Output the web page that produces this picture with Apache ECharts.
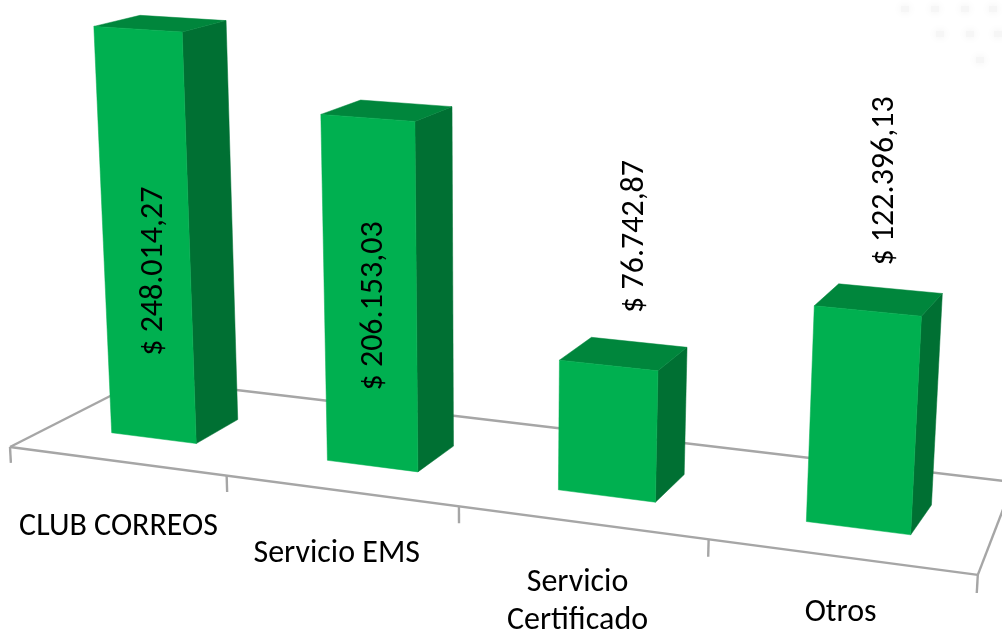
<!DOCTYPE html>
<html>
<head>
<meta charset="utf-8">
<style>html,body{margin:0;padding:0;background:#fff}#c{width:1002px;height:635px}</style>
<script src="https://cdn.jsdelivr.net/npm/echarts@6/dist/echarts.min.js"></script>
</head>
<body>
<div id="c"></div>
<script>
// ---- data ----
var categories = ['CLUB CORREOS', 'Servicio EMS', 'Servicio\nCertificado', 'Otros'];
var values = [248014.27, 206153.03, 76742.87, 122396.13];
var valueLabels = ['$ 248.014,27', '$ 206.153,03', '$ 76.742,87', '$ 122.396,13'];

// ---- layout (text offsets from the projected anchor, px) ----
var valueLabelOffsets = [[16, 242], [6, 188], [27, -129], [18, -130]];
var categoryLabelOffsets = [[2, 66], [-4, 63], [-4, 79], [0, 56]];
var smudges = [[905, 9], [935, 9], [965, 9], [993, 9], [940, 34], [970, 34], [998, 34], [980, 60]];
var FONT = 'Carlito, Calibri, Lato, sans-serif';
var FONT_SIZE = 32;

// ---- 3D camera: homogeneous projection of (X category units, Y 100k$, Z depth) ----
function project(X, Y, Z) {
  var w = 1 - 0.0337 * X - 0.01847 * Y + 0.0704 * Z;
  return [
    (209 * X + 10 - 9.07 * Y + 105.6 * Z) / w,
    (12.6 * X + 447 - 167.6 * Y - 21.9 * Z) / w
  ];
}
var BAR_HALF = 0.2, BAR_SHIFT = -0.015, Z_FRONT = 0.42, Z_BACK = 0.89, Z_FLOOR = 1.4;

// hidden grid: 100 px per category, 1 px per $1000, so axis pixels convert to model units
var GRID = { left: 0, top: 0, width: 400, height: 300 };
function toModel(api, cat, val) {
  var p = api.coord([cat, val]);
  return { X: (p[0] - GRID.left) / 100, Y: (GRID.top + GRID.height - p[1]) / 100 };
}

function poly(points, fill) {
  return { type: 'polygon', shape: { points: points }, style: { fill: fill, stroke: fill, lineWidth: 0.5 } };
}
function line(a, b) {
  return { type: 'line', shape: { x1: a[0], y1: a[1], x2: b[0], y2: b[1] },
           style: { stroke: '#a6a6a6', lineWidth: 2.4, fill: null } };
}
function text(str, x, y, rot) {
  return { type: 'text', x: x, y: y, rotation: rot || 0,
           style: { text: str, fill: '#000', fontFamily: FONT, fontSize: FONT_SIZE,
                    align: 'center', verticalAlign: 'middle', lineHeight: 38 } };
}

function renderFloor(params, api) {
  var n = categories.length;
  var a = project(0, 0, 0), b = project(n, 0, 0), c = project(n - 0.07, 0, Z_FLOOR), d = project(0, 0, Z_FLOOR);
  var kids = [
    { type: 'polygon', shape: { points: [a, b, c, d] }, style: { fill: '#fff' } },
    line(a, b), line(b, c), line(c, d), line(d, a)
  ];
  for (var i = 0; i <= n; i++) {
    kids.push(line(project(i, 0, 0), project(i, -0.1, 0)));
  }
  return { type: 'group', children: kids };
}

function renderBar(params, api) {
  var i = api.value(0), v = api.value(1);
  var m = toModel(api, i, v);
  var xl = m.X + BAR_SHIFT - BAR_HALF, xr = m.X + BAR_SHIFT + BAR_HALF, Y = m.Y;
  var fbl = project(xl, 0, Z_FRONT), fbr = project(xr, 0, Z_FRONT),
      ftl = project(xl, Y, Z_FRONT), ftr = project(xr, Y, Z_FRONT),
      bbr = project(xr, 0, Z_BACK), btr = project(xr, Y, Z_BACK), btl = project(xl, Y, Z_BACK);
  var top = project(m.X + BAR_SHIFT, Y, Z_FRONT);
  var base = project(m.X, 0, 0);
  var vo = valueLabelOffsets[i], co = categoryLabelOffsets[i];
  return { type: 'group', children: [
    poly([fbr, ftr, btr, bbr], '#007033'),
    poly([ftl, btl, btr, ftr], '#00863c'),
    poly([fbl, fbr, ftr, ftl], '#00b050'),
    text(valueLabels[i], top[0] + vo[0], top[1] + vo[1], Math.PI / 2),
    text(categories[i], base[0] + co[0], base[1] + co[1])
  ] };
}

var chart = echarts.init(document.getElementById('c'), null, { renderer: 'canvas' });
chart.setOption({
  animation: false,
  backgroundColor: '#fff',
  grid: GRID,
  xAxis: { type: 'category', data: categories, show: false },
  yAxis: { type: 'value', min: 0, max: 300000, show: false },
  graphic: smudges.map(function (s) {
    return { type: 'rect', silent: true, x: s[0] - 4, y: s[1] - 3,
             shape: { width: 8, height: 6 },
             style: { fill: '#f6f6f6', shadowBlur: 9, shadowColor: '#ececec' } };
  }),
  series: [
    { type: 'custom', data: [[0, 0]], renderItem: renderFloor, silent: true, clip: false, z: 1 },
    { type: 'custom', data: values.map(function (v, i) { return [i, v]; }),
      encode: { x: 0, y: 1 }, renderItem: renderBar, silent: true, clip: false, z: 2 }
  ]
});
</script>
</body>
</html>
